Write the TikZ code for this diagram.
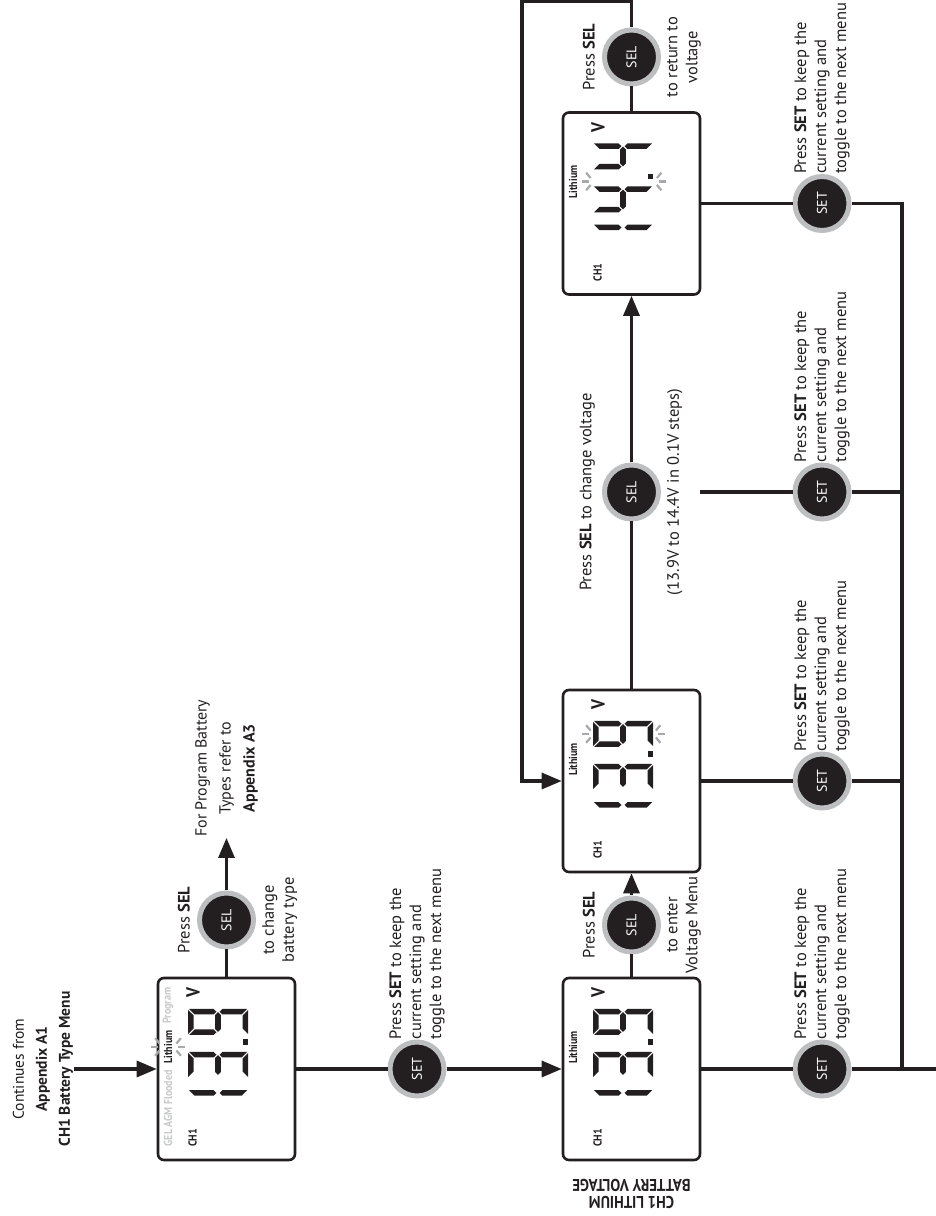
\documentclass[tikz,border=0pt]{standalone}
\usepackage{fontspec}
\setmainfont{PT Sans}
\newfontfamily\narrowfont{PT Sans}[FakeStretch=0.87]
\usetikzlibrary{arrows.meta,positioning}
\definecolor{ink}{HTML}{231F20}
\definecolor{ring}{HTML}{BCBEC0}
\definecolor{flashgray}{HTML}{A7A9AC}
\definecolor{labelgray}{HTML}{C7C8CA}

\newcommand{\segA}[1]{\fill[lcd] (#1+1,38.5) -- (#1+25,38.5) -- (#1+19.5,33) -- (#1+6.5,33) -- cycle;}
\newcommand{\segD}[1]{\fill[lcd] (#1+1,-21.5) -- (#1+25,-21.5) -- (#1+19.5,-16) -- (#1+6.5,-16) -- cycle;}
\newcommand{\segG}[1]{\fill[lcd] (#1+3.2,8.5) -- (#1+6,11.3) -- (#1+20,11.3) -- (#1+22.8,8.5) -- (#1+20,5.7) -- (#1+6,5.7) -- cycle;}
\newcommand{\segF}[1]{\fill[lcd] (#1,37.5) -- (#1+5.5,32) -- (#1+5.5,12.8) -- (#1+2.75,10) -- (#1,12.8) -- cycle;}
\newcommand{\segB}[1]{\fill[lcd] (#1+26,37.5) -- (#1+20.5,32) -- (#1+20.5,12.8) -- (#1+23.25,10) -- (#1+26,12.8) -- cycle;}
\newcommand{\segE}[1]{\fill[lcd] (#1,-20.5) -- (#1+5.5,-15) -- (#1+5.5,4.2) -- (#1+2.75,7) -- (#1,4.2) -- cycle;}
\newcommand{\segC}[1]{\fill[lcd] (#1+26,-20.5) -- (#1+20.5,-15) -- (#1+20.5,4.2) -- (#1+23.25,7) -- (#1+26,4.2) -- cycle;}
\newcommand{\lcddigit}[2]{\foreach \s in {#2}{\csname seg\s\endcsname{#1}}}
\newcommand{\flashmark}[3]{\foreach \a in {-50,0,50} \draw[flash] ([shift={(#1,#2)}]{#3+\a}:4.5) -- ([shift={(#1,#2)}]{#3+\a}:11.5);}

\tikzset{
  lcdbox/.style={draw=ink, line width=2.6pt, rounded corners=6pt, minimum width=182pt, minimum height=137pt, inner sep=0pt},
  btn/.style={circle, draw=ring, line width=5pt, fill=ink, minimum size=54pt, inner sep=0pt, text=white, font=\fontsize{14}{14}\selectfont},
  line/.style={draw=ink, line width=3.2pt},
  arrow/.style={line, -{Triangle[length=20pt,width=16pt]}},
  note/.style={text=ink, align=center, inner sep=1pt, font=\fontsize{16.5}{20}\selectfont},
  settext/.style={note, align=left},
  lcd/.style={fill=ink},
  flash/.style={draw=flashgray, line width=2.2pt},
  lcdtext/.style={text=ink, inner sep=0pt, font=\narrowfont\bfseries\fontsize{11.5}{11.5}\selectfont},
  bigv/.style={lcdtext, font=\narrowfont\bfseries\fontsize{19}{19}\selectfont},
  title/.style={text=ink, align=center, inner sep=0pt, font=\narrowfont\bfseries\fontsize{17}{16.5}\selectfont}
}

\begin{document}
\begin{tikzpicture}[x=1pt, y=1pt, rotate=90, transform shape]
\useasboundingbox (0,-936) rectangle (1216,0);

\node[lcdbox] (d1) at (147,-226.5) {};
\node[lcdbox] (d2) at (147,-631.5) {};
\node[lcdbox] (d3) at (435,-631.5) {};
\node[lcdbox] (d4) at (1012.5,-631.5) {};

\node[btn] (sel1) at (296,-226.5) {SEL};
\node[btn] (sel2) at (291,-631.5) {SEL};
\node[btn] (sel3) at (724,-631.5) {SEL};
\node[btn] (sel4) at (1159,-631.5) {SEL};
\node[btn] (set1) at (147,-417) {SET};
\node[btn] (set2) at (147,-822) {SET};
\node[btn] (set3) at (435,-822) {SET};
\node[btn] (set4) at (724,-822) {SET};
\node[btn] (set5) at (1012.5,-822) {SET};

\node[note, font=\fontsize{15.5}{23}\selectfont] (cont) at (147,-43) {Continues from\\\textbf{Appendix A1}\\\textbf{CH1 Battery Type Menu}};
\node[note, anchor=west, font=\fontsize{16}{24}\selectfont] (prog) at (378,-226.5) {For Program Battery\\Types refer to\\\textbf{Appendix A3}};
\node[title, rotate=90] (name) at (22,-631.5) {CH1 LITHIUM\\BATTERY VOLTAGE};

\coordinate (loopa) at (1215,-631.5);
\coordinate (loopb) at (1215,-522);
\coordinate (loopc) at (435,-522);
\coordinate (free) at (724,-700);
\coordinate (busend) at (147,-940);
\coordinate (bus2) at (147,-902);
\coordinate (bus3) at (435,-902);
\coordinate (bus4) at (724,-902);
\coordinate (bus5) at (1012.5,-902);

\draw[arrow] (cont) -- (d1);
\draw[line] (d1) -- (sel1);
\draw[arrow] (sel1) -- (prog);
\draw[line] (d1) -- (set1);
\draw[arrow] (set1) -- (d2);
\draw[line] (d2) -- (sel2);
\draw[arrow] (sel2) -- (d3);
\draw[line] (d3) -- (sel3);
\draw[arrow] (sel3) -- (d4);
\draw[line] (d4) -- (sel4);
\draw[arrow] (sel4) -- (loopa) -- (loopb) -- (loopc) -- (d3);
\draw[line] (d2) -- (set2) -- (busend);
\draw[line] (d3) -- (set3) -- (bus3);
\draw[line] (free) -- (set4) -- (bus4);
\draw[line] (d4) -- (set5) -- (bus5) -- (bus2);

\node[note, above=6pt of sel1] {Press \textbf{SEL}};
\node[note, below=5pt of sel1] {to change\\battery type};
\node[note, above=6pt of sel2] {Press \textbf{SEL}};
\node[note, below=5pt of sel2] {to enter\\Voltage Menu};
\node[note, above=6pt of sel3] {Press \textbf{SEL} to change voltage};
\node[note, below=5pt of sel3] {(13.9V to 14.4V in 0.1V steps)};
\node[note, above=6pt of sel4] {Press \textbf{SEL}};
\node[note, below=5pt of sel4] {to return to\\voltage};
\foreach \b in {set1,set2,set3,set4,set5}
  \node[settext, right=-1pt of \b] {Press \textbf{SET} to keep the\\current setting and\\toggle to the next menu};

\begin{scope}[shift={(147,-226.5)}]
\lcddigit{-47.25}{B,C}
\lcddigit{-9}{A,B,C,D,G}
\lcddigit{34}{A,B,C,D,F,G}
\fill[lcd] (24,-21.5) rectangle (29.5,-16);
\node[lcdtext] at (-69,34) {CH1};
\node[bigv] at (76,33.5) {V};
\node[lcdtext, text=labelgray, anchor=east] at (-1,58.5) {GEL AGM Flooded};
\node[lcdtext] at (22,58.5) {Lithium};
\node[lcdtext, text=labelgray, anchor=west] at (45,58.5) {Program};
\flashmark{22}{64}{90}
\flashmark{22}{53}{270}
\end{scope}

\begin{scope}[shift={(147,-631.5)}]
\lcddigit{-47.25}{B,C}
\lcddigit{-9}{A,B,C,D,G}
\lcddigit{34}{A,B,C,D,F,G}
\fill[lcd] (24,-21.5) rectangle (29.5,-16);
\node[lcdtext] at (-69,34) {CH1};
\node[bigv] at (76,33.5) {V};
\node[lcdtext] at (21.5,58.5) {Lithium};
\end{scope}

\begin{scope}[shift={(435,-631.5)}]
\lcddigit{-47.25}{B,C}
\lcddigit{-9}{A,B,C,D,G}
\lcddigit{34}{A,B,C,D,F,G}
\fill[lcd] (24,-21.5) rectangle (29.5,-16);
\node[lcdtext] at (-69,34) {CH1};
\node[bigv] at (76,33.5) {V};
\node[lcdtext] at (21.5,58.5) {Lithium};
\flashmark{47}{38}{90}
\flashmark{47}{-21.5}{270}
\end{scope}

\begin{scope}[shift={(1012.5,-631.5)}]
\lcddigit{-47.25}{B,C}
\lcddigit{-9}{B,C,F,G}
\lcddigit{34}{B,C,F,G}
\fill[lcd] (24,-21.5) rectangle (29.5,-16);
\node[lcdtext] at (-69,34) {CH1};
\node[bigv] at (76,33.5) {V};
\node[lcdtext] at (21.5,58.5) {Lithium};
\flashmark{22}{38}{90}
\flashmark{22}{-22.5}{270}
\end{scope}
\end{tikzpicture}
\end{document}
